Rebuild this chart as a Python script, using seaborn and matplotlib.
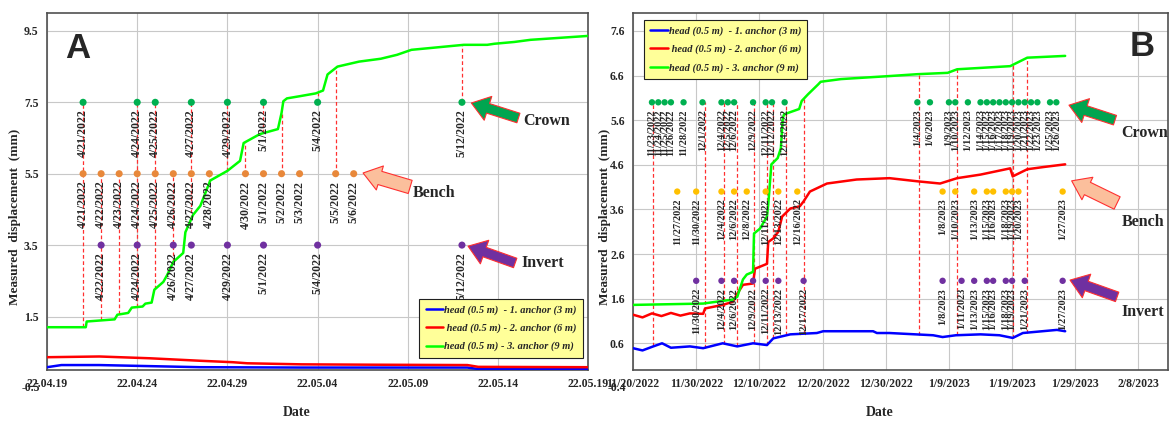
import numpy as np
import pandas as pd
import matplotlib
matplotlib.use("Agg")
import matplotlib.pyplot as plt
import matplotlib.transforms as mtransforms
import seaborn as sns

# ---- panel A : days after 19.04.2022 ----
a_start = pd.Timestamp("2022-04-19")
a_green_day = [0, 2.15, 2.2, 3.75, 3.9, 4.5, 4.7, 5.3, 5.45, 5.8, 5.95, 6.45, 6.67, 7.0, 7.55,
               7.67, 8.1, 8.5, 9.05, 10.0, 10.7, 10.9, 11.8, 12.8, 13.0, 13.1, 13.3, 14.0, 14.9,
               15.3, 15.55, 16.1, 17.3, 18.5, 19.4, 20.2, 23.1, 24.4, 24.8, 25.9, 26.8, 30.0]
a_green_mm = [1.2, 1.2, 1.36, 1.42, 1.55, 1.6, 1.75, 1.78, 1.86, 1.89, 2.25, 2.47, 2.67, 3.03, 3.28,
              3.86, 4.35, 4.6, 5.31, 5.58, 5.86, 6.36, 6.61, 6.75, 7.2, 7.53, 7.61, 7.67, 7.75,
              7.83, 8.28, 8.5, 8.64, 8.72, 8.83, 8.97, 9.11, 9.11, 9.14, 9.19, 9.25, 9.36]
a_red_day = [0, 2.9, 5.7, 8.5, 10.3, 11.1, 14.1, 18, 23.3, 23.9, 30]
a_red_mm = [0.36, 0.38, 0.33, 0.26, 0.22, 0.19, 0.16, 0.15, 0.14, 0.09, 0.08]
a_blue_day = [0, 0.8, 2.9, 5.7, 8.5, 14, 23.3, 23.9, 30]
a_blue_mm = [0.08, 0.14, 0.14, 0.11, 0.08, 0.07, 0.07, 0.03, 0.03]

a_crown = ["2022-04-21", "2022-04-24", "2022-04-25", "2022-04-27", "2022-04-29",
           "2022-05-01", "2022-05-04", "2022-05-12"]
a_bench = ["2022-04-21", "2022-04-22", "2022-04-23", "2022-04-24", "2022-04-25", "2022-04-26",
           "2022-04-27", "2022-04-28", "2022-04-30", "2022-05-01", "2022-05-02", "2022-05-03",
           "2022-05-05", "2022-05-06"]
a_invert = ["2022-04-22", "2022-04-24", "2022-04-26", "2022-04-27", "2022-04-29",
            "2022-05-01", "2022-05-04", "2022-05-12"]
a_vlines = ["2022-04-21", "2022-04-22", "2022-04-23", "2022-04-24", "2022-04-25", "2022-04-26",
            "2022-04-27", "2022-04-28", "2022-04-29", "2022-04-30", "2022-05-01", "2022-05-02",
            "2022-05-04", "2022-05-05", "2022-05-12"]
a_levels = {"crown": 7.5, "bench": 5.5, "invert": 3.5}

# ---- panel B : days after 20.11.2022 ----
b_start = pd.Timestamp("2022-11-20")
b_green_day = [0, 11.1, 14.2, 15.8, 16.5, 17.4, 18.0, 19.0, 19.15, 20.1, 21.2, 21.4, 21.9, 22.9,
               23.4, 23.7, 23.9, 26.3, 26.7, 27.7, 29.3, 29.7, 32.9, 40.8, 45.0, 49.8, 51.3,
               59.7, 62.4, 68.4]
b_green_mm = [1.46, 1.49, 1.55, 1.58, 1.64, 2.03, 2.14, 2.2, 3.06, 3.17, 3.44, 3.7, 4.61, 4.75,
              4.97, 5.64, 5.73, 5.85, 6.03, 6.18, 6.4, 6.46, 6.52, 6.59, 6.63, 6.66, 6.74,
              6.81, 7.0, 7.04]
b_red_day = [0, 1.5, 3, 4.5, 6, 7.5, 9, 11.1, 11.4, 14.2, 15.8, 16.5, 17.4, 19.0, 19.3, 21.2,
             21.4, 22.2, 23.0, 23.6, 24.9, 26.4, 27.0, 28.0, 30.7, 35.4, 40.6, 45, 48.6, 51.3,
             55, 59.7, 60.1, 62.4, 65, 68.4]
b_red_mm = [1.24, 1.18, 1.27, 1.21, 1.28, 1.22, 1.27, 1.26, 1.38, 1.46, 1.53, 1.71, 1.91, 1.94,
            2.27, 2.38, 2.87, 2.95, 3.1, 3.44, 3.62, 3.67, 3.78, 4.0, 4.18, 4.27, 4.3, 4.23,
            4.18, 4.3, 4.38, 4.52, 4.34, 4.5, 4.55, 4.61]
b_blue_day = [0, 1.5, 3.2, 4.6, 6, 9, 11.1, 14.2, 16.5, 19, 21.2, 22.2, 24.9, 29.1, 30.1, 38,
              38.6, 40.6, 47.5, 49, 51.1, 55, 58, 60.1, 61.7, 67.1, 68.4]
b_blue_mm = [0.49, 0.44, 0.53, 0.6, 0.5, 0.53, 0.49, 0.6, 0.53, 0.6, 0.56, 0.71, 0.8, 0.83,
             0.87, 0.87, 0.83, 0.83, 0.78, 0.74, 0.78, 0.8, 0.78, 0.72, 0.83, 0.9, 0.87]

b_crown = ["2022-11-23", "2022-11-24", "2022-11-25", "2022-11-26", "2022-11-28", "2022-12-01",
           "2022-12-04", "2022-12-05", "2022-12-06", "2022-12-09", "2022-12-11", "2022-12-12",
           "2022-12-14", "2023-01-04", "2023-01-06", "2023-01-09", "2023-01-10", "2023-01-12",
           "2023-01-14", "2023-01-15", "2023-01-16", "2023-01-17", "2023-01-18", "2023-01-19",
           "2023-01-20", "2023-01-21", "2023-01-22", "2023-01-23", "2023-01-25", "2023-01-26"]
b_bench = ["2022-11-27", "2022-11-30", "2022-12-04", "2022-12-06", "2022-12-08", "2022-12-11",
           "2022-12-13", "2022-12-16", "2023-01-08", "2023-01-10", "2023-01-13", "2023-01-15",
           "2023-01-16", "2023-01-18", "2023-01-19", "2023-01-20", "2023-01-27"]
b_invert = ["2022-11-30", "2022-12-04", "2022-12-06", "2022-12-09", "2022-12-11", "2022-12-13",
            "2022-12-17", "2023-01-08", "2023-01-11", "2023-01-13", "2023-01-15", "2023-01-16",
            "2023-01-18", "2023-01-19", "2023-01-21", "2023-01-27"]
b_vlines = ["2022-11-23 05:00", "2022-12-01 10:00", "2022-12-04 10:00", "2022-12-06 10:00",
            "2022-12-09 02:00", "2022-12-11 05:00", "2022-12-12 05:00", "2022-12-14 05:00",
            "2022-12-17 02:00", "2023-01-04 05:00", "2023-01-10 08:00", "2023-01-19 02:00",
            "2023-01-21 08:00"]
b_levels = {"crown": 6.0, "bench": 4.0, "invert": 2.0}

legend_labels = ["head (0.5 m)  - 1. anchor (3 m)", " head (0.5 m) - 2. anchor (6 m)",
                 "head (0.5 m) - 3. anchor (9 m)"]

sns.set_style("whitegrid", {"grid.color": "#c8c8c8", "axes.edgecolor": "#505050"})
plt.rcParams["font.family"] = ["Liberation Serif", "DejaVu Serif"]
plt.rcParams["font.weight"] = "bold"

fig = plt.figure(figsize=(11.69, 4.21), dpi=100)
axA = fig.add_axes([0.0402, 0.121, 0.463, 0.848])
axB = fig.add_axes([0.5415, 0.121, 0.4576, 0.848])

colors = {"crown": "#00B050", "invert": "#7030A0"}
arrow_fc = {"crown": "#00A550", "bench": "#FBBF9C", "invert": "#7030A0"}


def to_dates(start, days):
    return start + pd.to_timedelta(np.array(days), unit="D")


def draw_panel(ax, start, green, red, blue, marks, levels, bench_color, vlines, vtop, lbl_size, dot):
    for (d, m), col, lab in zip([blue, red, green], ["#0000FF", "#FF0000", "#00FF00"], legend_labels):
        sns.lineplot(x=to_dates(start, d), y=m, color=col, lw=1.8, label=lab, ax=ax, zorder=3)
    # red dashed guides between markers and the curves
    vd = pd.to_datetime(vlines)
    off = (vd - start) / pd.Timedelta(days=1)
    y1, y2 = vtop(off)
    ax.vlines(vd, y1, y2, colors="#FF3030", linestyles=(0, (3, 2)), lw=0.9, zorder=2)
    for key, dates in marks.items():
        dd = pd.to_datetime(dates)
        col = bench_color if key == "bench" else colors[key]
        sns.scatterplot(x=dd, y=[levels[key]] * len(dd), color=col, s=dot, edgecolor="none",
                        ax=ax, zorder=4, legend=False)
        for t in dd:
            ax.annotate(f"{t.month}/{t.day}/{t.year}", (t, levels[key]), xytext=(0, -5),
                        textcoords="offset points", rotation=90, ha="center", va="top",
                        fontsize=lbl_size, fontweight="bold", zorder=5)


def a_guides(off):
    g = np.interp(off, a_green_day, a_green_mm)
    crown_off = (pd.to_datetime(a_crown) - a_start) / pd.Timedelta(days=1)
    lev = np.where(np.isin(off, crown_off), a_levels["crown"], a_levels["bench"])
    return np.minimum(lev, g), np.maximum(lev, g)


def b_guides(off):
    g = np.interp(off, b_green_day, b_green_mm)
    b = np.interp(off, b_blue_day, b_blue_mm)
    return b, np.maximum(g, b_levels["crown"])


draw_panel(axA, a_start, (a_green_day, a_green_mm), (a_red_day, a_red_mm), (a_blue_day, a_blue_mm),
           {"crown": a_crown, "bench": a_bench, "invert": a_invert}, a_levels, "#E8883A",
           a_vlines, a_guides, 8.5, 26)
draw_panel(axB, b_start, (b_green_day, b_green_mm), (b_red_day, b_red_mm), (b_blue_day, b_blue_mm),
           {"crown": b_crown, "bench": b_bench, "invert": b_invert}, b_levels, "#FFC000",
           b_vlines, b_guides, 7.5, 21)

# axes, ticks
a_ticks = pd.date_range("2022-04-19", "2022-05-19", freq="5D")
axA.set_xlim(a_ticks[0], a_ticks[-1])
axA.set_xticks(a_ticks)
axA.set_xticklabels([t.strftime("%y.%m.%d") for t in a_ticks])
axA.set_ylim(0, 10)
axA.set_yticks([1.5, 3.5, 5.5, 7.5, 9.5])

b_ticks = pd.date_range("2022-11-20", periods=9, freq="10D")
axB.set_xlim(b_ticks[0], pd.Timestamp("2023-02-12 16:00"))
axB.set_xticks(b_ticks)
axB.set_xticklabels([f"{t.month}/{t.day}/{t.year}" for t in b_ticks])
axB.set_ylim(0, 8)
axB.set_yticks([0.6, 1.6, 2.6, 3.6, 4.6, 5.6, 6.6, 7.6])

for ax, low, lx, ylx in [(axA, "-0.5", -0.5, -0.048), (axB, "-0.4", -0.4, -0.041)]:
    ax.tick_params(length=0, pad=6, labelsize=8.5)
    for lab in ax.get_xticklabels() + ax.get_yticklabels():
        lab.set_fontweight("bold")
    tr = mtransforms.blended_transform_factory(ax.transAxes, ax.transData)
    ax.text(-0.012, lx, low, transform=tr, ha="right", va="center", fontsize=8.5,
            fontweight="bold", clip_on=False)
    ax.set_ylabel("Measured  displacement  (mm)", fontsize=9.5, fontweight="bold")
    ax.yaxis.set_label_coords(ylx, 0.43)
    ax.set_xlabel("Date", fontsize=10, fontweight="bold")
    ax.xaxis.set_label_coords(0.462, -0.10)
    ax.grid(True, color="#c8c8c8", lw=0.8)
    for sp in ax.spines.values():
        sp.set_color("#505050")
        sp.set_linewidth(1.2)

leg_prop = {"family": "Liberation Serif", "weight": "bold", "style": "italic", "size": 7.5}
for ax, loc, anchor in [(axA, "lower right", (1.0, 0.02)), (axB, "upper left", (0.01, 0.995))]:
    leg = ax.legend(loc=loc, bbox_to_anchor=anchor, prop=leg_prop, facecolor="#FFFF99",
                    edgecolor="#202020", framealpha=1, fancybox=False, handlelength=1.7,
                    handletextpad=0.1, labelspacing=0.85, borderpad=0.6)
    leg.get_frame().set_linewidth(0.8)
    leg.set_zorder(6)

# panel letters
axA.text(0.057, 0.902, "A", transform=axA.transAxes, fontsize=25, fontweight="bold",
         family="Liberation Sans", ha="center", va="center")
axB.text(0.951, 0.905, "B", transform=axB.transAxes, fontsize=25, fontweight="bold",
         family="Liberation Sans", ha="center", va="center")

# arrows with names
arrowsA = [("crown", "Crown", (0.784, 0.748), (0.871, 0.706), (0.88, 0.697), 0.4),
           ("bench", "Bench", (0.584, 0.552), (0.671, 0.513), (0.676, 0.496), 0.55),
           ("invert", "Invert", (0.778, 0.347), (0.865, 0.300), (0.876, 0.300), 0.4)]
arrowsB = [("crown", "Crown", (0.815, 0.742), (0.901, 0.700), (0.912, 0.664), 0.4),
           ("bench", "Bench", (0.820, 0.530), (0.905, 0.468), (0.914, 0.415), 0.55),
           ("invert", "Invert", (0.817, 0.252), (0.905, 0.205), (0.914, 0.162), 0.4)]
for ax, arrows in [(axA, arrowsA), (axB, arrowsB)]:
    for key, name, tip, tail, txt, tw in arrows:
        ax.annotate("", xy=tip, xytext=tail, xycoords="axes fraction",
                    arrowprops=dict(arrowstyle=f"simple,head_length=0.7,head_width=1.0,tail_width={tw}",
                                    mutation_scale=18, fc=arrow_fc[key], ec="#FF3030", lw=0.8,
                                    shrinkA=0, shrinkB=0), zorder=6)
        ax.text(txt[0], txt[1], name, transform=ax.transAxes, fontsize=11.5, fontweight="bold",
                ha="left", va="center", clip_on=False)

fig.savefig("out.png", dpi=100)
